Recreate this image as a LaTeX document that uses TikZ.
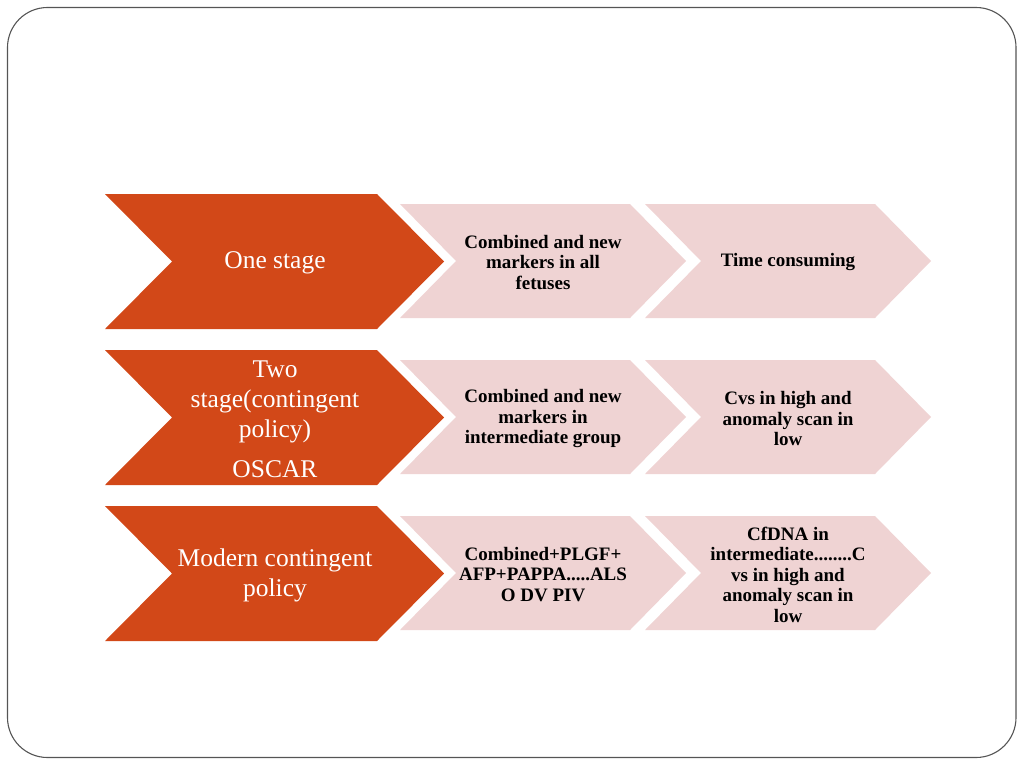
\documentclass[tikz,border=0pt]{standalone}
\usepackage{fontspec}
\setmainfont{Liberation Serif}
\definecolor{chevorange}{RGB}{210,72,24}
\definecolor{chevpink}{RGB}{239,211,211}
\definecolor{framegray}{RGB}{85,85,85}
\newcommand{\chevshape}[6]{%
  \fill[#6] (#1,#2) -- (#3,#2) -- ({#3+#5},{(#2+#4)/2}) -- (#3,#4) -- (#1,#4) -- ({#1+#5},{(#2+#4)/2}) -- cycle;}
\tikzset{
  stagetext/.style={text=white, align=center, font=\fontsize{25.5}{30}\selectfont, inner sep=0pt, yshift=-1.5pt},
  infotext/.style={text=black, align=center, font=\fontsize{19}{20.5}\selectfont\bfseries, inner sep=0pt, yshift=-1pt},
  bigchev/.style={chevorange},
  smallchev/.style={chevpink}
}
\begin{document}
\begin{tikzpicture}[x=1pt,y=-1pt]
\useasboundingbox (0,0) rectangle (1024,768);
\draw[framegray, line width=1.1pt, rounded corners=40pt] (7.5,7.5) rectangle (1016,757.5);
% row chevrons
\foreach \t/\b in {194/329, 350/485, 506/641} {
  \chevshape{105}{\t}{377}{\b}{67}{bigchev}
}
\foreach \t/\b in {204/318, 360/474, 516/630} {
  \chevshape{400}{\t}{630}{\b}{56}{smallchev}
  \chevshape{645}{\t}{875}{\b}{56}{smallchev}
}
% texts
\node[stagetext] (s1) at (275,261.5) {One stage};
\node[stagetext] (s2) at (275,417.5) {Two\\stage(contingent\\policy)\\[10pt]OSCAR};
\node[stagetext] (s3) at (275,573.5) {Modern contingent\\policy};
\node[infotext] (a1) at (543,261.5) {Combined and new\\markers in all\\fetuses};
\node[infotext] (b1) at (788,261.5) {Time consuming};
\node[infotext] (a2) at (543,417.5) {Combined and new\\markers in\\intermediate group};
\node[infotext] (b2) at (788,417.5) {Cvs in high and\\anomaly scan in\\low};
\node[infotext] (a3) at (543,573.5) {Combined+PLGF+\\AFP+PAPPA.....ALS\\O DV PIV};
\node[infotext] (b3) at (788,573.5) {CfDNA in\\intermediate........C\\vs in high and\\anomaly scan in\\low};
\end{tikzpicture}
\end{document}
